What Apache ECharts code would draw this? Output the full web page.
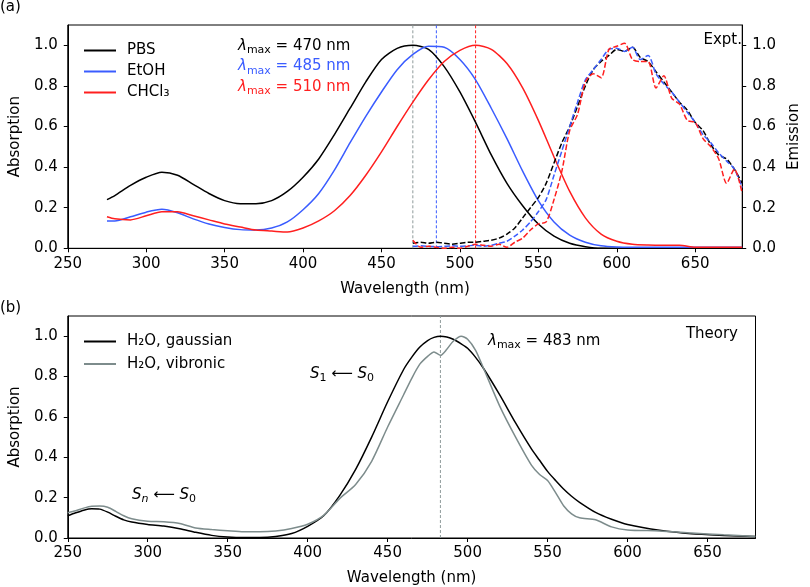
<!DOCTYPE html>
<html>
<head>
<meta charset="utf-8">
<script src="https://cdn.jsdelivr.net/npm/echarts@6/dist/echarts.min.js"></script>
<style>
html,body{margin:0;padding:0;background:#fff;}
#chart{width:810px;height:587px;}
</style>
</head>
<body>
<div id="chart"></div>
<script>
// ---------- data ----------
var xTicks = [250, 300, 350, 400, 450, 500, 550, 600, 650];
var yTicks = [0, 0.2, 0.4, 0.6, 0.8, 1.0];

// experimental absorption (panel a)
var absX = [275, 280, 290, 300, 310, 320, 330, 340, 350, 360, 370, 380, 390, 400, 410, 420, 430, 440, 450, 460, 470, 480, 490, 500, 510, 520, 530, 540, 550, 560, 570, 580, 590, 600, 610, 620, 630, 640, 650, 660, 670, 680];
var absPBS = [0.24, 0.26, 0.31, 0.35, 0.375, 0.36, 0.315, 0.27, 0.235, 0.22, 0.22, 0.235, 0.28, 0.35, 0.44, 0.56, 0.69, 0.82, 0.93, 0.985, 1.0, 0.98, 0.895, 0.77, 0.62, 0.46, 0.32, 0.21, 0.12, 0.06, 0.025, 0.008, 0.0, 0.0, 0.0, 0.0, 0.0, 0.0, 0.0, 0.0, 0.0, 0.0];
var absEtOH = [0.135, 0.135, 0.155, 0.178, 0.192, 0.175, 0.145, 0.12, 0.103, 0.092, 0.09, 0.1, 0.13, 0.19, 0.27, 0.385, 0.52, 0.65, 0.77, 0.88, 0.955, 0.995, 0.99, 0.93, 0.83, 0.69, 0.54, 0.38, 0.235, 0.13, 0.065, 0.03, 0.012, 0.006, 0.005, 0.005, 0.005, 0.005, 0.005, 0.005, 0.005, 0.005];
var absCHCl3 = [0.155, 0.145, 0.14, 0.16, 0.18, 0.18, 0.16, 0.14, 0.12, 0.105, 0.09, 0.085, 0.08, 0.1, 0.135, 0.185, 0.26, 0.36, 0.475, 0.6, 0.72, 0.83, 0.92, 0.975, 1.0, 0.98, 0.91, 0.79, 0.63, 0.45, 0.28, 0.15, 0.07, 0.035, 0.02, 0.016, 0.015, 0.015, 0.005, 0.005, 0.005, 0.005];

// experimental emission (panel a, right axis)
var emX = [470, 475, 480, 485, 490, 495, 500, 505, 510, 515, 520, 525, 530, 535, 540, 545, 550, 555, 560, 565, 570, 575, 580, 585, 590, 595, 600, 605, 610, 615, 620, 625, 630, 635, 640, 645, 650, 655, 660, 665, 670, 675, 680];
var emPBS = [0.025, 0.03, 0.025, 0.03, 0.025, 0.02, 0.025, 0.03, 0.03, 0.035, 0.04, 0.05, 0.07, 0.1, 0.15, 0.2, 0.25, 0.32, 0.42, 0.52, 0.6, 0.7, 0.8, 0.88, 0.92, 0.95, 0.98, 0.97, 0.99, 0.94, 0.92, 0.87, 0.82, 0.77, 0.72, 0.68, 0.62, 0.58, 0.51, 0.46, 0.44, 0.39, 0.32];
var emEtOH = [0.01, 0.012, 0.01, 0.008, 0.01, 0.012, 0.01, 0.012, 0.015, 0.01, 0.015, 0.025, 0.035, 0.06, 0.09, 0.13, 0.18, 0.24, 0.36, 0.48, 0.6, 0.72, 0.83, 0.88, 0.93, 0.98, 0.985, 0.97, 0.99, 0.93, 0.95, 0.86, 0.81, 0.77, 0.72, 0.67, 0.62, 0.56, 0.52, 0.47, 0.43, 0.39, 0.30];
var emCHCl3 = [0.04, 0.005, 0.01, 0.005, 0.0, 0.005, 0.0, 0.01, 0.02, 0.015, 0.01, 0.02, 0.005, 0.03, 0.05, 0.09, 0.12, 0.13, 0.24, 0.38, 0.58, 0.66, 0.82, 0.86, 0.84, 0.98, 0.995, 1.01, 0.93, 0.92, 0.92, 0.79, 0.85, 0.74, 0.71, 0.63, 0.62, 0.54, 0.5, 0.44, 0.32, 0.39, 0.27];

var lambdaExp = [470, 485, 510];

// theory (panel b)
var thX = [250, 255, 260, 265, 270, 275, 280, 285, 290, 300, 310, 320, 330, 340, 350, 360, 370, 380, 390, 400, 410, 420, 430, 440, 450, 460, 465, 470, 475, 479, 483, 487, 491, 496, 500, 505, 510, 520, 530, 540, 545, 550, 555, 560, 565, 570, 580, 590, 600, 620, 640, 660, 680];
var thGauss = [0.11, 0.125, 0.138, 0.145, 0.143, 0.128, 0.108, 0.09, 0.079, 0.067, 0.059, 0.046, 0.028, 0.013, 0.005, 0.002, 0.002, 0.007, 0.022, 0.058, 0.11, 0.21, 0.34, 0.5, 0.675, 0.835, 0.895, 0.945, 0.978, 0.994, 1.0, 0.996, 0.985, 0.962, 0.94, 0.895, 0.84, 0.71, 0.57, 0.44, 0.385, 0.33, 0.285, 0.243, 0.207, 0.177, 0.127, 0.093, 0.067, 0.038, 0.021, 0.013, 0.007];
var thVib = [0.125, 0.135, 0.148, 0.157, 0.158, 0.152, 0.132, 0.11, 0.095, 0.083, 0.08, 0.072, 0.05, 0.042, 0.036, 0.031, 0.031, 0.035, 0.047, 0.068, 0.112, 0.195, 0.265, 0.38, 0.55, 0.71, 0.79, 0.86, 0.9, 0.922, 0.905, 0.935, 0.975, 1.0, 0.985, 0.93, 0.84, 0.655, 0.5, 0.36, 0.315, 0.285, 0.225, 0.16, 0.12, 0.1, 0.09, 0.055, 0.04, 0.035, 0.025, 0.016, 0.008];
var lambdaTh = 483;

// ---------- styling ----------
var FONT = 'DejaVu Sans';
var BLACK = '#000000', BLUE = '#3a5cff', RED = '#ff1f1f', GRAY = '#7d8c8c', VGRAY = '#8e9a9a';

function pairs(xs, ys) { return xs.map(function (x, i) { return [x, ys[i]]; }); }

function xAxisCfg(gi) {
  return {
    gridIndex: gi, type: 'value', min: 250, max: 680, interval: 50,
    name: 'Wavelength (nm)', nameLocation: 'middle', nameGap: 33,
    nameTextStyle: { fontFamily: FONT, fontSize: 15, color: '#000' },
    axisLine: { show: true, onZero: false, lineStyle: { color: '#000', width: 1 } },
    axisTick: { show: true, length: 4, customValues: xTicks, lineStyle: { color: '#000', width: 1 } },
    axisLabel: { customValues: xTicks, margin: 8, fontFamily: FONT, fontSize: 15, color: '#000' },
    splitLine: { show: false }
  };
}
function yAxisCfg(gi, pos, name) {
  return {
    gridIndex: gi, type: 'value', min: 0, max: 1.1, interval: 0.2, position: pos,
    name: name, nameLocation: 'middle', nameGap: 42, nameRotate: 90,
    nameTextStyle: { fontFamily: FONT, fontSize: 15, color: '#000' },
    axisLine: { show: true, onZero: false, lineStyle: { color: '#000', width: 1 } },
    axisTick: { show: true, length: 4, customValues: yTicks, lineStyle: { color: '#000', width: 1 } },
    axisLabel: { customValues: yTicks, margin: 10, fontFamily: FONT, fontSize: 15, color: '#000',
      formatter: function (v) { return v.toFixed(1); } },
    splitLine: { show: false }
  };
}
function lineSeries(name, xi, yi, data, color, dashed, width) {
  return {
    name: name, type: 'line', xAxisIndex: xi, yAxisIndex: yi, data: data,
    showSymbol: false, symbol: 'none', smooth: 0.25, z: 3,
    lineStyle: { color: color, width: width || 1.5, type: dashed ? [5.5, 2.4] : 'solid' },
    itemStyle: { color: color }, emphasis: { disabled: true }, silent: true
  };
}
function vline(x, xi, yi, color) {
  return {
    type: 'line', xAxisIndex: xi, yAxisIndex: yi, data: [[x, 0], [x, 1.1]],
    showSymbol: false, symbol: 'none', z: 2, silent: true,
    lineStyle: { color: color, width: 1, type: [3, 2] }
  };
}

var sub = { fontFamily: FONT, fontSize: 11, lineHeight: 11, verticalAlign: 'bottom' };
var subI = { fontFamily: FONT, fontSize: 11, lineHeight: 11, verticalAlign: 'bottom', fontStyle: 'italic' };
var mainN = { fontFamily: FONT, fontSize: 15, lineHeight: 20 };
var mainI = { fontFamily: FONT, fontSize: 15, lineHeight: 20, fontStyle: 'italic' };

function lamText(x, y, val, color) {
  return {
    type: 'text', x: x, y: y, silent: true,
    style: {
      text: '{l|λ}{s|max}{n| = ' + val + ' nm}',
      fill: color, verticalAlign: 'middle', align: 'left',
      rich: { l: mainI, s: sub, n: mainN }
    }
  };
}
function plainText(x, y, t, align) {
  return {
    type: 'text', x: x, y: y, silent: true,
    style: { text: t, fill: '#000', font: '15px "' + FONT + '"', verticalAlign: 'middle', align: align || 'left' }
  };
}

var option = {
  animation: false,
  backgroundColor: '#ffffff',
  grid: [
    { left: 64.5, top: 25, width: 691, height: 223.3, show: true, borderColor: '#000', borderWidth: 1, backgroundColor: 'transparent' },
    { left: 64.5, top: 316, width: 691, height: 223.3, show: true, borderColor: '#000', borderWidth: 1, backgroundColor: 'transparent' }
  ],
  xAxis: [xAxisCfg(0), xAxisCfg(1)],
  yAxis: [yAxisCfg(0, 'left', 'Absorption'), yAxisCfg(0, 'right', 'Emission'), yAxisCfg(1, 'left', 'Absorption')],
  legend: [
    {
      data: ['PBS', 'EtOH', 'CHCl₃'], orient: 'vertical', left: 79, top: 37.5,
      icon: 'rect', itemWidth: 32, itemHeight: 2, itemGap: 5, selectedMode: false,
      textStyle: { fontFamily: FONT, fontSize: 15, lineHeight: 16, color: '#000', padding: [0, 0, 0, 6] }
    },
    {
      data: ['H₂O, gaussian', 'H₂O, vibronic'], orient: 'vertical', left: 79, top: 328.5,
      icon: 'rect', itemWidth: 32, itemHeight: 2, itemGap: 6.5, selectedMode: false,
      textStyle: { fontFamily: FONT, fontSize: 15, lineHeight: 16, color: '#000', padding: [0, 0, 0, 6] }
    }
  ],
  series: [
    vline(lambdaExp[0], 0, 0, VGRAY),
    vline(lambdaExp[1], 0, 0, BLUE),
    vline(lambdaExp[2], 0, 0, RED),
    lineSeries('PBS', 0, 0, pairs(absX, absPBS), BLACK, false),
    lineSeries('EtOH', 0, 0, pairs(absX, absEtOH), BLUE, false),
    lineSeries('CHCl₃', 0, 0, pairs(absX, absCHCl3), RED, false),
    lineSeries('PBS em', 0, 1, pairs(emX, emPBS), BLACK, true),
    lineSeries('EtOH em', 0, 1, pairs(emX, emEtOH), BLUE, true),
    lineSeries('CHCl₃ em', 0, 1, pairs(emX, emCHCl3), RED, true),
    vline(lambdaTh, 1, 2, VGRAY),
    lineSeries('H₂O, gaussian', 1, 2, pairs(thX, thGauss), BLACK, false),
    lineSeries('H₂O, vibronic', 1, 2, pairs(thX, thVib), GRAY, false)
  ],
  graphic: [
    plainText(0, 7, '(a)'),
    plainText(0, 308, '(b)'),
    lamText(238, 46, lambdaExp[0], BLACK),
    lamText(238, 66.5, lambdaExp[1], BLUE),
    lamText(238, 87, lambdaExp[2], RED),
    plainText(742, 40, 'Expt.', 'right'),
    lamText(488, 341, lambdaTh, BLACK),
    plainText(738, 334, 'Theory', 'right'),
    {
      type: 'text', x: 310, y: 374, silent: true,
      style: { text: '{i|S}{s|1}{n| ⟵ }{i|S}{s|0}', fill: '#000', verticalAlign: 'middle',
        rich: { i: mainI, s: sub, n: mainN } }
    },
    {
      type: 'text', x: 132, y: 495, silent: true,
      style: { text: '{i|S}{si|n}{n| ⟵ }{i|S}{s|0}', fill: '#000', verticalAlign: 'middle',
        rich: { i: mainI, s: sub, si: subI, n: mainN } }
    }
  ]
};

var chart = echarts.init(document.getElementById('chart'), null, { renderer: 'canvas' });
chart.setOption(option);
</script>
</body>
</html>
